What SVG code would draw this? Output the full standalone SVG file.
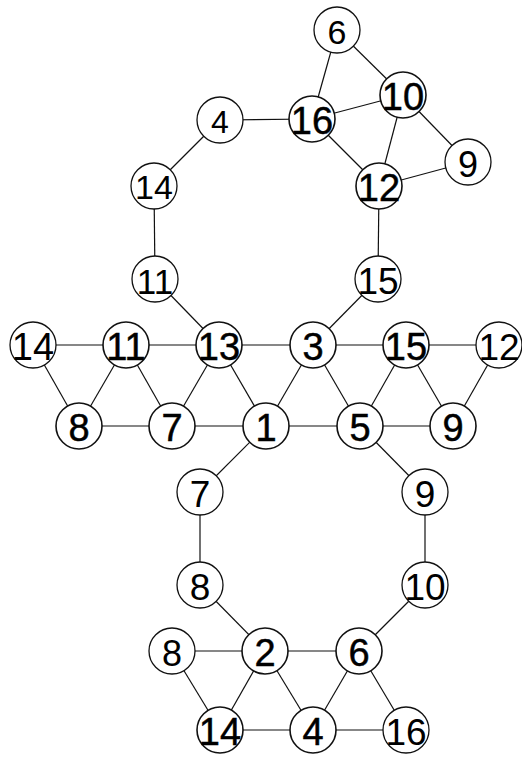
<svg xmlns="http://www.w3.org/2000/svg" width="522" height="757" viewBox="0 0 522 757">
<style>
.e line{stroke:#111;stroke-width:1.2}
circle{fill:#fff;stroke:#111;stroke-width:1.3}
.b circle{stroke-width:1.6}
text{font-family:"Liberation Sans",Arial,sans-serif;text-anchor:middle;dominant-baseline:central;fill:#000}
.b text{stroke:#000;stroke-width:0.5}
</style>
<rect width="522" height="757" fill="#fff"/>
<g class="e" id="edges">
<line x1="337" y1="30" x2="312" y2="119"/>
<line x1="337" y1="30" x2="403" y2="95"/>
<line x1="312" y1="119" x2="403" y2="95"/>
<line x1="403" y1="95" x2="379" y2="186"/>
<line x1="312" y1="119" x2="379" y2="186"/>
<line x1="403" y1="95" x2="468" y2="162"/>
<line x1="379" y1="186" x2="468" y2="162"/>
<line x1="220" y1="120" x2="312" y2="119"/>
<line x1="220" y1="120" x2="154" y2="186"/>
<line x1="154" y1="186" x2="155" y2="279"/>
<line x1="155" y1="279" x2="219" y2="345"/>
<line x1="379" y1="186" x2="378" y2="279"/>
<line x1="378" y1="279" x2="313" y2="345"/>
<line x1="33" y1="345" x2="126" y2="345"/>
<line x1="126" y1="345" x2="219" y2="345"/>
<line x1="219" y1="345" x2="313" y2="345"/>
<line x1="313" y1="345" x2="406" y2="345"/>
<line x1="406" y1="345" x2="499" y2="345"/>
<line x1="33" y1="345" x2="79" y2="426"/>
<line x1="79" y1="426" x2="126" y2="345"/>
<line x1="126" y1="345" x2="172" y2="426"/>
<line x1="172" y1="426" x2="219" y2="345"/>
<line x1="219" y1="345" x2="266" y2="426"/>
<line x1="266" y1="426" x2="313" y2="345"/>
<line x1="313" y1="345" x2="360" y2="426"/>
<line x1="360" y1="426" x2="406" y2="345"/>
<line x1="406" y1="345" x2="453" y2="426"/>
<line x1="453" y1="426" x2="499" y2="345"/>
<line x1="79" y1="426" x2="453" y2="426"/>
<line x1="266" y1="426" x2="200" y2="492"/>
<line x1="200" y1="492" x2="200" y2="585"/>
<line x1="200" y1="585" x2="265" y2="651"/>
<line x1="360" y1="426" x2="425" y2="492"/>
<line x1="425" y1="492" x2="425" y2="585"/>
<line x1="425" y1="585" x2="359" y2="651"/>
<line x1="172" y1="651" x2="359" y2="651"/>
<line x1="172" y1="651" x2="220" y2="730"/>
<line x1="220" y1="730" x2="265" y2="651"/>
<line x1="265" y1="651" x2="313" y2="730"/>
<line x1="313" y1="730" x2="359" y2="651"/>
<line x1="359" y1="651" x2="406" y2="730"/>
<line x1="220" y1="730" x2="406" y2="730"/>
</g>
<g id="n-top6"><circle cx="337" cy="30" r="23"/><text x="337" y="32" font-size="34">6</text></g>
<g id="n-top10" class="b"><circle cx="403" cy="95" r="23"/><text x="403" y="97" font-size="38">10</text></g>
<g id="n-top16" class="b"><circle cx="312" cy="119" r="23"/><text x="312" y="121" font-size="38">16</text></g>
<g id="n-top9"><circle cx="468" cy="162" r="23"/><text x="468" y="164" font-size="36">9</text></g>
<g id="n-top12" class="b"><circle cx="379" cy="186" r="23"/><text x="379" y="188" font-size="38">12</text></g>
<g id="n-top4"><circle cx="220" cy="120" r="23"/><text x="220" y="122" font-size="32">4</text></g>
<g id="n-top14"><circle cx="154" cy="186" r="23"/><text x="154" y="187" font-size="34">14</text></g>
<g id="n-top11"><circle cx="155" cy="279" r="23"/><text x="155" y="281" font-size="35">11</text></g>
<g id="n-top15"><circle cx="378" cy="279" r="23"/><text x="378" y="281" font-size="37">15</text></g>
<g id="n-r14"><circle cx="33" cy="345" r="23"/><text x="33" y="347" font-size="38">14</text></g>
<g id="n-r11" class="b"><circle cx="126" cy="345" r="23"/><text x="126" y="347" font-size="38">11</text></g>
<g id="n-r13" class="b"><circle cx="219" cy="345" r="23"/><text x="219" y="347" font-size="38">13</text></g>
<g id="n-r3" class="b"><circle cx="313" cy="345" r="23"/><text x="313" y="347" font-size="38">3</text></g>
<g id="n-r15" class="b"><circle cx="406" cy="345" r="23"/><text x="406" y="347" font-size="38">15</text></g>
<g id="n-r12"><circle cx="499" cy="345" r="23"/><text x="499" y="347" font-size="37">12</text></g>
<g id="n-r8" class="b"><circle cx="79" cy="426" r="23"/><text x="79" y="428" font-size="38">8</text></g>
<g id="n-r7" class="b"><circle cx="172" cy="426" r="23"/><text x="172" y="428" font-size="38">7</text></g>
<g id="n-r1" class="b"><circle cx="266" cy="426" r="23"/><text x="266" y="428" font-size="38">1</text></g>
<g id="n-r5" class="b"><circle cx="360" cy="426" r="23"/><text x="360" y="428" font-size="38">5</text></g>
<g id="n-r9" class="b"><circle cx="453" cy="426" r="23"/><text x="453" y="428" font-size="38">9</text></g>
<g id="n-l7"><circle cx="200" cy="492" r="23"/><text x="200" y="494" font-size="37">7</text></g>
<g id="n-l9"><circle cx="425" cy="492" r="23"/><text x="425" y="494" font-size="37">9</text></g>
<g id="n-l8"><circle cx="200" cy="585" r="23"/><text x="200" y="587" font-size="37">8</text></g>
<g id="n-l10"><circle cx="425" cy="585" r="23"/><text x="425" y="587" font-size="37">10</text></g>
<g id="n-b8"><circle cx="172" cy="651" r="23"/><text x="172" y="653" font-size="36">8</text></g>
<g id="n-b2" class="b"><circle cx="265" cy="651" r="23"/><text x="265" y="653" font-size="38">2</text></g>
<g id="n-b6" class="b"><circle cx="359" cy="651" r="23"/><text x="359" y="653" font-size="38">6</text></g>
<g id="n-b14" class="b"><circle cx="220" cy="730" r="23"/><text x="220" y="732" font-size="38">14</text></g>
<g id="n-b4" class="b"><circle cx="313" cy="730" r="23"/><text x="313" y="732" font-size="38">4</text></g>
<g id="n-b16"><circle cx="406" cy="730" r="23"/><text x="406" y="732" font-size="37">16</text></g>
</svg>
